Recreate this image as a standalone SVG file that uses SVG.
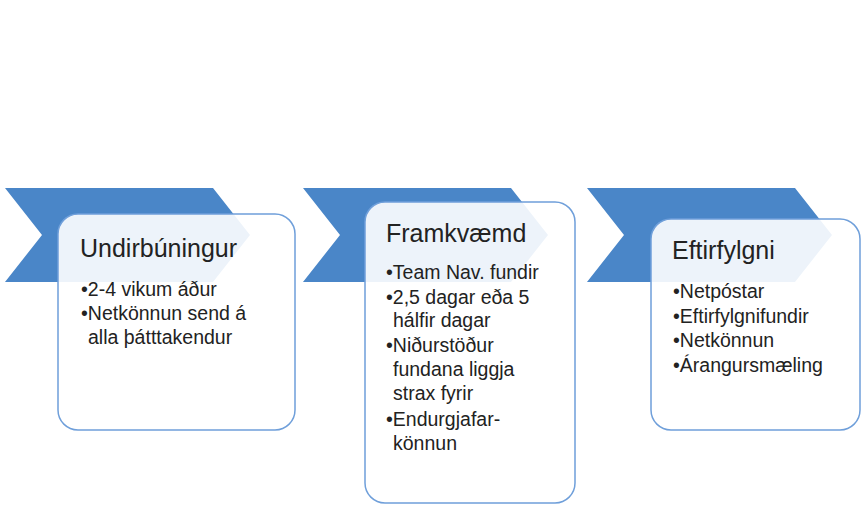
<svg xmlns="http://www.w3.org/2000/svg" width="865" height="521" viewBox="0 0 865 521">
  <style>
    .chev { fill: #4a86c8; }
    .box { fill: #ffffff; fill-opacity: 0.9; stroke: #6f9fda; stroke-width: 1.5; }
    .title { font-family: "Liberation Sans", Arial, sans-serif; font-size: 25px; fill: #222222; }
    .body { font-family: "Liberation Sans", Arial, sans-serif; font-size: 19.5px; fill: #222222; }
  </style>
  <defs>
    <polygon id="chevron" points="0,188 208,188 245,235 208,282 0,282 37,235"/>
  </defs>
  <rect x="0" y="0" width="865" height="521" fill="#ffffff"/>
  <g id="connectors"/>
  <g id="node-undirbuningur">
    <use href="#chevron" class="chev" x="5"/>
    <rect class="box" x="58" y="214" width="237" height="216" rx="20" ry="20"/>
    <text class="title" x="80" y="257">Undirbúningur</text>
    <text class="body" x="81" y="296">•2-4 vikum áður</text>
    <text class="body" x="81" y="320">•Netkönnun send á</text>
    <text class="body" x="88" y="344">alla þátttakendur</text>
  </g>
  <g id="node-framkvaemd">
    <use href="#chevron" class="chev" x="303"/>
    <rect class="box" x="365" y="202" width="210" height="301" rx="20" ry="20"/>
    <text class="title" x="386" y="242">Framkvæmd</text>
    <text class="body" x="386" y="279">•Team Nav. fundir</text>
    <text class="body" x="386" y="304">•2,5 dagar eða 5</text>
    <text class="body" x="393" y="327">hálfir dagar</text>
    <text class="body" x="386" y="352">•Niðurstöður</text>
    <text class="body" x="393" y="376">fundana liggja</text>
    <text class="body" x="393" y="400">strax fyrir</text>
    <text class="body" x="386" y="426">•Endurgjafar-</text>
    <text class="body" x="393" y="450">könnun</text>
  </g>
  <g id="node-eftirfylgni">
    <use href="#chevron" class="chev" x="587"/>
    <rect class="box" x="651" y="219" width="209" height="211" rx="20" ry="20"/>
    <text class="title" x="672" y="259">Eftirfylgni</text>
    <text class="body" x="673" y="298">•Netpóstar</text>
    <text class="body" x="673" y="323">•Eftirfylgnifundir</text>
    <text class="body" x="673" y="347">•Netkönnun</text>
    <text class="body" x="673" y="372">•Árangursmæling</text>
  </g>
</svg>
